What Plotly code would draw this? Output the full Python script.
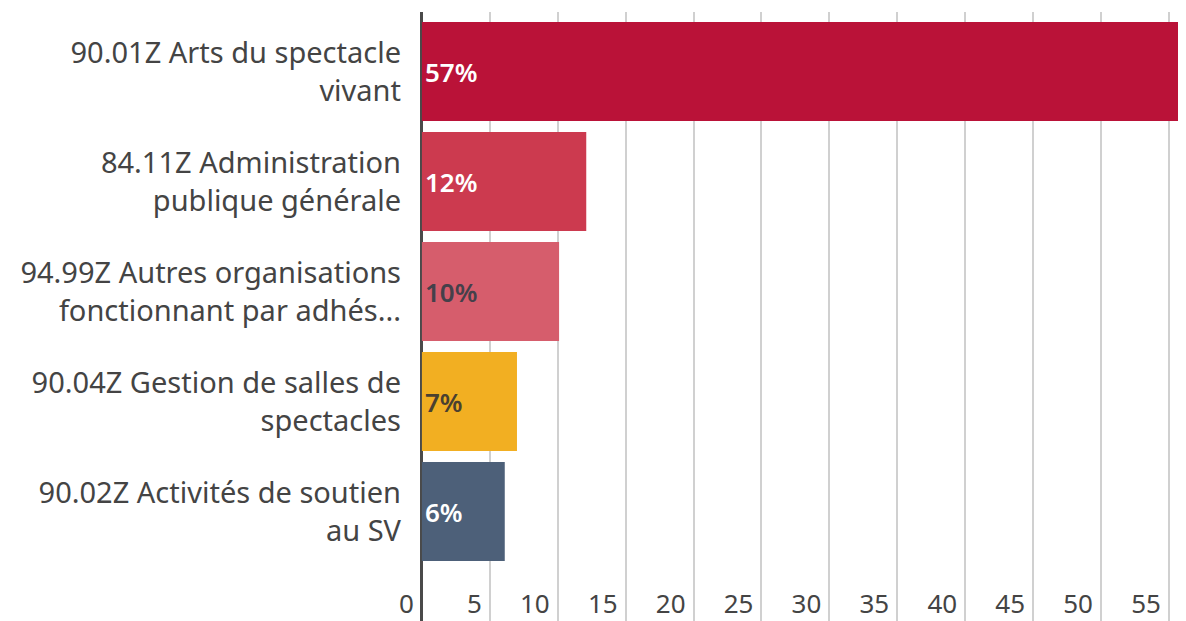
import plotly.graph_objects as go

categories = [
    "90.01Z Arts du spectacle<br>vivant",
    "84.11Z Administration<br>publique générale",
    "94.99Z Autres organisations<br>fonctionnant par adhés...",
    "90.04Z Gestion de salles de<br>spectacles",
    "90.02Z Activités de soutien<br>au SV",
]
values = [57, 12.1, 10.1, 7.0, 6.1]
labels = ["57%", "12%", "10%", "7%", "6%"]
bar_colors = ["#BA1238", "#CC3A4F", "#D65D6C", "#F2AF22", "#4D6079"]
label_colors = ["#FFFFFF", "#FFFFFF", "#44404A", "#4A4030", "#FFFFFF"]
x_ticks = [0, 5, 10, 15, 20, 25, 30, 35, 40, 45, 50, 55]

FONT = "Noto Sans"

fig = go.Figure(
    go.Bar(
        y=categories,
        x=values,
        orientation="h",
        marker=dict(color=bar_colors, line=dict(width=0)),
        text=labels,
        textposition="inside",
        insidetextanchor="start",
        textfont=dict(family=FONT, size=26, color=label_colors, weight=600),
        hoverinfo="skip",
    )
)

fig.update_layout(
    width=1186,
    height=621,
    margin=dict(l=382, r=0, t=4, b=0, autoexpand=False),
    paper_bgcolor="white",
    plot_bgcolor="white",
    bargap=0.1,
    showlegend=False,
    font=dict(family=FONT, size=29, color="#444444"),
)

fig.update_xaxes(
    range=[-2.35, 56.85],
    tickvals=x_ticks,
    ticktext=[str(v) for v in x_ticks],
    ticklabelposition="inside left",
    ticklabelstandoff=5,
    ticklabelshift=-8,
    showgrid=True,
    gridcolor="#D0D0D0",
    gridwidth=2,
    zeroline=True,
    zerolinecolor="#4A4A4A",
    zerolinewidth=3,
    showline=False,
    automargin=False,
    tickfont=dict(family=FONT, size=26, color="#444444"),
)

fig.update_yaxes(
    categoryorder="array",
    categoryarray=categories,
    range=[5.068, -0.541],
    showgrid=False,
    zeroline=False,
    showline=False,
    ticks="",
    ticklabelstandoff=-12,
    automargin=False,
    tickfont=dict(family=FONT, size=29, color="#444444"),
)

fig.write_html("out.html")
